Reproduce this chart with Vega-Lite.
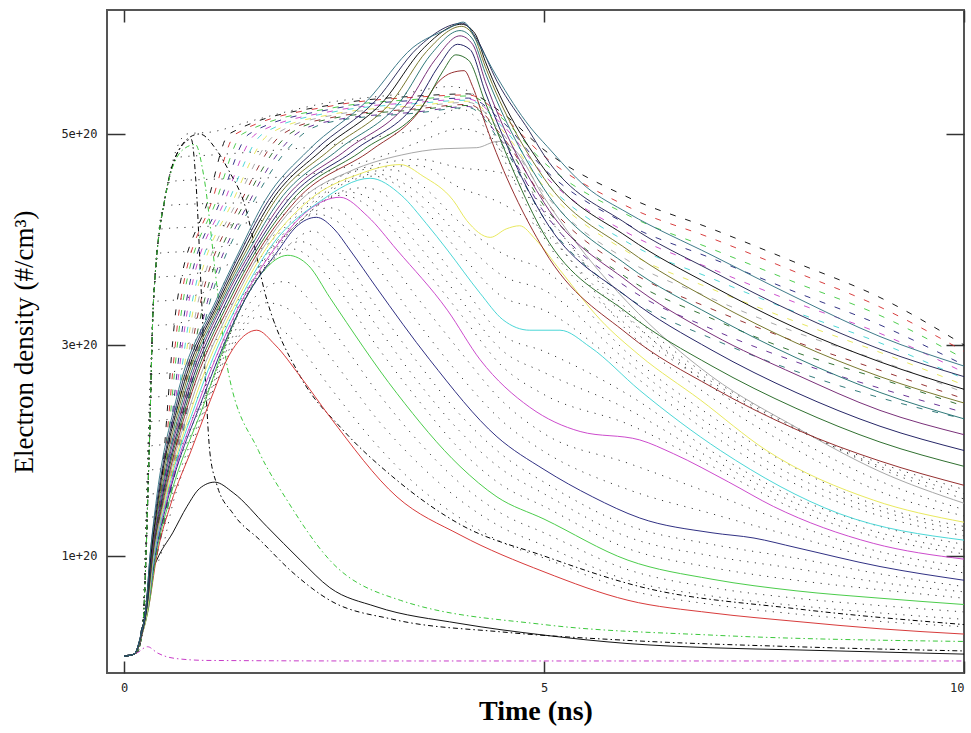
{
"$schema":"https://vega.github.io/schema/vega-lite/v6.json",
"width":857,"height":663,
"autosize":{"type":"none"},
"padding":{"left":107,"top":10,"right":7,"bottom":60},
"background":"white",
"config":{"view":{"stroke":"#555","strokeWidth":2}},
"data":{"values":[
{"c":"s1","t":0,"n":0.05},{"c":"s1","t":0.12,"n":0.07},{"c":"s1","t":0.19,"n":0.2},{"c":"s1","t":0.27,"n":0.52},{"c":"s1","t":0.29,"n":0.74},{"c":"s1","t":0.39,"n":0.96},{"c":"s1","t":0.58,"n":1.22},{"c":"s1","t":0.75,"n":1.47},{"c":"s1","t":0.9,"n":1.64},{"c":"s1","t":1.08,"n":1.7},{"c":"s1","t":1.3,"n":1.6},{"c":"s1","t":1.7,"n":1.28},{"c":"s1","t":2.1,"n":0.96},{"c":"s1","t":2.45,"n":0.7},{"c":"s1","t":3,"n":0.52},{"c":"s1","t":4,"n":0.36},{"c":"s1","t":5,"n":0.25},{"c":"s1","t":6,"n":0.17},{"c":"s1","t":7,"n":0.13},{"c":"s1","t":8,"n":0.11},{"c":"s1","t":9,"n":0.09},{"c":"s1","t":10,"n":0.07},
{"c":"s2","t":0,"n":0.05},{"c":"s2","t":0.12,"n":0.07},{"c":"s2","t":0.2,"n":0.22},{"c":"s2","t":0.29,"n":0.5},{"c":"s2","t":0.39,"n":1},{"c":"s2","t":0.56,"n":1.5},{"c":"s2","t":0.8,"n":2},{"c":"s2","t":1.03,"n":2.48},{"c":"s2","t":1.25,"n":2.9},{"c":"s2","t":1.45,"n":3.1},{"c":"s2","t":1.58,"n":3.14},{"c":"s2","t":1.8,"n":3},{"c":"s2","t":2.1,"n":2.7},{"c":"s2","t":2.45,"n":2.32},{"c":"s2","t":3.25,"n":1.56},{"c":"s2","t":4,"n":1.2},{"c":"s2","t":5,"n":0.85},{"c":"s2","t":6,"n":0.58},{"c":"s2","t":7,"n":0.46},{"c":"s2","t":8,"n":0.38},{"c":"s2","t":9,"n":0.31},{"c":"s2","t":10,"n":0.26},
{"c":"s3","t":0,"n":0.05},{"c":"s3","t":0.12,"n":0.07},{"c":"s3","t":0.2,"n":0.22},{"c":"s3","t":0.29,"n":0.5},{"c":"s3","t":0.38,"n":1},{"c":"s3","t":0.53,"n":1.5},{"c":"s3","t":0.97,"n":2.48},{"c":"s3","t":1.2,"n":3},{"c":"s3","t":1.44,"n":3.43},{"c":"s3","t":1.66,"n":3.7},{"c":"s3","t":1.95,"n":3.85},{"c":"s3","t":2.2,"n":3.75},{"c":"s3","t":2.45,"n":3.45},{"c":"s3","t":3.25,"n":2.54},{"c":"s3","t":4,"n":1.85},{"c":"s3","t":4.44,"n":1.56},{"c":"s3","t":5,"n":1.35},{"c":"s3","t":6,"n":0.96},{"c":"s3","t":7,"n":0.78},{"c":"s3","t":8,"n":0.67},{"c":"s3","t":9,"n":0.6},{"c":"s3","t":10,"n":0.54},
{"c":"s4","t":0,"n":0.05},{"c":"s4","t":0.12,"n":0.07},{"c":"s4","t":0.2,"n":0.22},{"c":"s4","t":0.28,"n":0.5},{"c":"s4","t":0.37,"n":1},{"c":"s4","t":0.51,"n":1.5},{"c":"s4","t":0.93,"n":2.48},{"c":"s4","t":1.44,"n":3.43},{"c":"s4","t":1.84,"n":3.9},{"c":"s4","t":2.05,"n":4.12},{"c":"s4","t":2.29,"n":4.21},{"c":"s4","t":2.5,"n":4.1},{"c":"s4","t":2.69,"n":3.9},{"c":"s4","t":3,"n":3.55},{"c":"s4","t":3.64,"n":2.86},{"c":"s4","t":4.44,"n":2.13},{"c":"s4","t":5,"n":1.82},{"c":"s4","t":5.58,"n":1.56},{"c":"s4","t":6.14,"n":1.36},{"c":"s4","t":7,"n":1.22},{"c":"s4","t":7.5,"n":1.17},{"c":"s4","t":8,"n":1.08},{"c":"s4","t":9,"n":0.9},{"c":"s4","t":10,"n":0.77},
{"c":"s5","t":0,"n":0.05},{"c":"s5","t":0.12,"n":0.07},{"c":"s5","t":0.2,"n":0.22},{"c":"s5","t":0.28,"n":0.5},{"c":"s5","t":0.36,"n":1},{"c":"s5","t":0.5,"n":1.5},{"c":"s5","t":0.9,"n":2.48},{"c":"s5","t":1.41,"n":3.43},{"c":"s5","t":1.78,"n":3.9},{"c":"s5","t":2.2,"n":4.28},{"c":"s5","t":2.57,"n":4.4},{"c":"s5","t":2.9,"n":4.22},{"c":"s5","t":3.25,"n":3.9},{"c":"s5","t":3.85,"n":3.33},{"c":"s5","t":4.24,"n":2.86},{"c":"s5","t":4.83,"n":2.41},{"c":"s5","t":5.43,"n":2.18},{"c":"s5","t":6.14,"n":2.1},{"c":"s5","t":6.54,"n":1.97},{"c":"s5","t":7.2,"n":1.7},{"c":"s5","t":7.73,"n":1.47},{"c":"s5","t":8.92,"n":1.12},{"c":"s5","t":10,"n":0.97},
{"c":"s6","t":0,"n":0.05},{"c":"s6","t":0.12,"n":0.07},{"c":"s6","t":0.2,"n":0.22},{"c":"s6","t":0.28,"n":0.5},{"c":"s6","t":0.36,"n":1},{"c":"s6","t":0.49,"n":1.5},{"c":"s6","t":0.87,"n":2.48},{"c":"s6","t":1.38,"n":3.43},{"c":"s6","t":1.72,"n":3.9},{"c":"s6","t":2.35,"n":4.37},{"c":"s6","t":2.93,"n":4.58},{"c":"s6","t":3.3,"n":4.42},{"c":"s6","t":3.6,"n":4.15},{"c":"s6","t":3.85,"n":3.9},{"c":"s6","t":4.24,"n":3.49},{"c":"s6","t":4.51,"n":3.24},{"c":"s6","t":4.83,"n":3.14},{"c":"s6","t":5.19,"n":3.14},{"c":"s6","t":5.55,"n":2.98},{"c":"s6","t":6.14,"n":2.57},{"c":"s6","t":7.1,"n":2},{"c":"s6","t":8.52,"n":1.4},{"c":"s6","t":10,"n":1.15},
{"c":"s7","t":0,"n":0.05},{"c":"s7","t":0.12,"n":0.07},{"c":"s7","t":0.2,"n":0.22},{"c":"s7","t":0.28,"n":0.5},{"c":"s7","t":0.35,"n":1},{"c":"s7","t":0.48,"n":1.5},{"c":"s7","t":0.84,"n":2.48},{"c":"s7","t":1.35,"n":3.43},{"c":"s7","t":1.68,"n":3.9},{"c":"s7","t":2.2,"n":4.37},{"c":"s7","t":2.8,"n":4.62},{"c":"s7","t":3.29,"n":4.71},{"c":"s7","t":3.56,"n":4.6},{"c":"s7","t":3.92,"n":4.37},{"c":"s7","t":4.08,"n":4.18},{"c":"s7","t":4.36,"n":4.02},{"c":"s7","t":4.55,"n":4.1},{"c":"s7","t":4.71,"n":4.13},{"c":"s7","t":4.9,"n":4},{"c":"s7","t":5.19,"n":3.71},{"c":"s7","t":5.67,"n":3.24},{"c":"s7","t":6.14,"n":2.9},{"c":"s7","t":6.86,"n":2.48},{"c":"s7","t":7.65,"n":2},{"c":"s7","t":8.92,"n":1.53},{"c":"s7","t":10,"n":1.32},
{"c":"s8","t":0,"n":0.05},{"c":"s8","t":0.12,"n":0.07},{"c":"s8","t":0.2,"n":0.22},{"c":"s8","t":0.27,"n":0.5},{"c":"s8","t":0.35,"n":1},{"c":"s8","t":0.47,"n":1.5},{"c":"s8","t":0.81,"n":2.48},{"c":"s8","t":1.32,"n":3.43},{"c":"s8","t":1.64,"n":3.9},{"c":"s8","t":2.1,"n":4.37},{"c":"s8","t":2.7,"n":4.65},{"c":"s8","t":3.3,"n":4.8},{"c":"s8","t":3.8,"n":4.86},{"c":"s8","t":4.2,"n":4.87},{"c":"s8","t":4.45,"n":4.93},{"c":"s8","t":4.65,"n":4.85},{"c":"s8","t":5,"n":4.4},{"c":"s8","t":5.5,"n":3.85},{"c":"s8","t":6,"n":3.4},{"c":"s8","t":7,"n":2.7},{"c":"s8","t":8,"n":2.22},{"c":"s8","t":9,"n":1.8},{"c":"s8","t":10,"n":1.5},
{"c":"s9","t":0,"n":0.05},{"c":"s9","t":0.12,"n":0.07},{"c":"s9","t":0.2,"n":0.22},{"c":"s9","t":0.27,"n":0.5},{"c":"s9","t":0.34,"n":1},{"c":"s9","t":0.46,"n":1.5},{"c":"s9","t":0.78,"n":2.48},{"c":"s9","t":1.29,"n":3.43},{"c":"s9","t":1.61,"n":3.9},{"c":"s9","t":2.05,"n":4.37},{"c":"s9","t":2.95,"n":4.85},{"c":"s9","t":3.5,"n":5.2},{"c":"s9","t":3.75,"n":5.5},{"c":"s9","t":3.9,"n":5.58},{"c":"s9","t":4.05,"n":5.6},{"c":"s9","t":4.15,"n":5.45},{"c":"s9","t":4.3,"n":5.1},{"c":"s9","t":5,"n":3.9},{"c":"s9","t":6,"n":3.1},{"c":"s9","t":7,"n":2.6},{"c":"s9","t":8,"n":2.2},{"c":"s9","t":9,"n":1.9},{"c":"s9","t":10,"n":1.67},
{"c":"s10","t":0,"n":0.05},{"c":"s10","t":0.12,"n":0.07},{"c":"s10","t":0.2,"n":0.23},{"c":"s10","t":0.27,"n":0.5},{"c":"s10","t":0.34,"n":1},{"c":"s10","t":0.45,"n":1.5},{"c":"s10","t":0.76,"n":2.48},{"c":"s10","t":1.26,"n":3.43},{"c":"s10","t":1.58,"n":3.9},{"c":"s10","t":2,"n":4.37},{"c":"s10","t":2.85,"n":4.85},{"c":"s10","t":3.6,"n":5.32},{"c":"s10","t":3.8,"n":5.6},{"c":"s10","t":3.95,"n":5.75},{"c":"s10","t":4.1,"n":5.7},{"c":"s10","t":4.3,"n":5.3},{"c":"s10","t":5,"n":4.05},{"c":"s10","t":6,"n":3.3},{"c":"s10","t":7,"n":2.8},{"c":"s10","t":8,"n":2.4},{"c":"s10","t":9,"n":2.08},{"c":"s10","t":10,"n":1.85},
{"c":"s11","t":0,"n":0.05},{"c":"s11","t":0.12,"n":0.07},{"c":"s11","t":0.2,"n":0.23},{"c":"s11","t":0.27,"n":0.5},{"c":"s11","t":0.33,"n":1},{"c":"s11","t":0.44,"n":1.5},{"c":"s11","t":0.74,"n":2.48},{"c":"s11","t":1.23,"n":3.43},{"c":"s11","t":1.55,"n":3.9},{"c":"s11","t":1.95,"n":4.37},{"c":"s11","t":2.75,"n":4.85},{"c":"s11","t":3.5,"n":5.32},{"c":"s11","t":3.75,"n":5.65},{"c":"s11","t":3.97,"n":5.85},{"c":"s11","t":4.12,"n":5.8},{"c":"s11","t":4.3,"n":5.4},{"c":"s11","t":5,"n":4.2},{"c":"s11","t":6,"n":3.45},{"c":"s11","t":7,"n":2.95},{"c":"s11","t":8,"n":2.55},{"c":"s11","t":9,"n":2.23},{"c":"s11","t":10,"n":2},
{"c":"s12","t":0,"n":0.05},{"c":"s12","t":0.12,"n":0.07},{"c":"s12","t":0.2,"n":0.23},{"c":"s12","t":0.26,"n":0.5},{"c":"s12","t":0.33,"n":1},{"c":"s12","t":0.43,"n":1.5},{"c":"s12","t":0.72,"n":2.48},{"c":"s12","t":1.2,"n":3.43},{"c":"s12","t":1.52,"n":3.9},{"c":"s12","t":1.9,"n":4.37},{"c":"s12","t":2.65,"n":4.85},{"c":"s12","t":3.4,"n":5.32},{"c":"s12","t":3.7,"n":5.7},{"c":"s12","t":4,"n":5.93},{"c":"s12","t":4.15,"n":5.85},{"c":"s12","t":4.3,"n":5.5},{"c":"s12","t":5,"n":4.35},{"c":"s12","t":6,"n":3.6},{"c":"s12","t":7,"n":3.1},{"c":"s12","t":8,"n":2.72},{"c":"s12","t":9,"n":2.38},{"c":"s12","t":10,"n":2.15},
{"c":"s13","t":0,"n":0.05},{"c":"s13","t":0.12,"n":0.07},{"c":"s13","t":0.2,"n":0.24},{"c":"s13","t":0.26,"n":0.5},{"c":"s13","t":0.32,"n":1},{"c":"s13","t":0.42,"n":1.5},{"c":"s13","t":0.7,"n":2.48},{"c":"s13","t":1.18,"n":3.43},{"c":"s13","t":1.49,"n":3.9},{"c":"s13","t":1.85,"n":4.37},{"c":"s13","t":2.55,"n":4.85},{"c":"s13","t":3.3,"n":5.32},{"c":"s13","t":3.65,"n":5.75},{"c":"s13","t":4,"n":5.98},{"c":"s13","t":4.15,"n":5.9},{"c":"s13","t":4.3,"n":5.58},{"c":"s13","t":5,"n":4.48},{"c":"s13","t":6,"n":3.75},{"c":"s13","t":7,"n":3.28},{"c":"s13","t":8,"n":2.88},{"c":"s13","t":9,"n":2.55},{"c":"s13","t":10,"n":2.3},
{"c":"s14","t":0,"n":0.05},{"c":"s14","t":0.12,"n":0.07},{"c":"s14","t":0.2,"n":0.24},{"c":"s14","t":0.26,"n":0.5},{"c":"s14","t":0.32,"n":1},{"c":"s14","t":0.41,"n":1.5},{"c":"s14","t":0.68,"n":2.48},{"c":"s14","t":1.16,"n":3.43},{"c":"s14","t":1.46,"n":3.9},{"c":"s14","t":1.8,"n":4.37},{"c":"s14","t":2.45,"n":4.85},{"c":"s14","t":3.2,"n":5.32},{"c":"s14","t":3.6,"n":5.78},{"c":"s14","t":4.02,"n":6.02},{"c":"s14","t":4.17,"n":5.92},{"c":"s14","t":4.3,"n":5.64},{"c":"s14","t":5,"n":4.58},{"c":"s14","t":6,"n":3.9},{"c":"s14","t":7,"n":3.42},{"c":"s14","t":8,"n":3.02},{"c":"s14","t":9,"n":2.7},{"c":"s14","t":10,"n":2.45},
{"c":"s15","t":0,"n":0.05},{"c":"s15","t":0.12,"n":0.07},{"c":"s15","t":0.2,"n":0.25},{"c":"s15","t":0.26,"n":0.5},{"c":"s15","t":0.32,"n":1},{"c":"s15","t":0.4,"n":1.5},{"c":"s15","t":0.66,"n":2.48},{"c":"s15","t":1.14,"n":3.43},{"c":"s15","t":1.43,"n":3.9},{"c":"s15","t":1.76,"n":4.37},{"c":"s15","t":2.36,"n":4.85},{"c":"s15","t":3.1,"n":5.32},{"c":"s15","t":3.55,"n":5.8},{"c":"s15","t":4.02,"n":6.04},{"c":"s15","t":4.18,"n":5.95},{"c":"s15","t":4.3,"n":5.69},{"c":"s15","t":5,"n":4.67},{"c":"s15","t":6,"n":4.02},{"c":"s15","t":7,"n":3.56},{"c":"s15","t":8,"n":3.16},{"c":"s15","t":9,"n":2.84},{"c":"s15","t":10,"n":2.58},
{"c":"s16","t":0,"n":0.05},{"c":"s16","t":0.12,"n":0.07},{"c":"s16","t":0.2,"n":0.25},{"c":"s16","t":0.26,"n":0.5},{"c":"s16","t":0.31,"n":1},{"c":"s16","t":0.39,"n":1.5},{"c":"s16","t":0.64,"n":2.48},{"c":"s16","t":1.12,"n":3.43},{"c":"s16","t":1.4,"n":3.9},{"c":"s16","t":1.72,"n":4.37},{"c":"s16","t":2.28,"n":4.85},{"c":"s16","t":3,"n":5.32},{"c":"s16","t":3.5,"n":5.82},{"c":"s16","t":4.03,"n":6.05},{"c":"s16","t":4.2,"n":5.9},{"c":"s16","t":4.44,"n":5.5},{"c":"s16","t":4.83,"n":5.02},{"c":"s16","t":5,"n":4.8},{"c":"s16","t":6,"n":4.14},{"c":"s16","t":7,"n":3.7},{"c":"s16","t":8,"n":3.3},{"c":"s16","t":9,"n":2.96},{"c":"s16","t":10,"n":2.7},
{"c":"s17","t":0,"n":0.05},{"c":"s17","t":0.12,"n":0.07},{"c":"s17","t":0.2,"n":0.25},{"c":"s17","t":0.26,"n":0.5},{"c":"s17","t":0.31,"n":1},{"c":"s17","t":0.38,"n":1.5},{"c":"s17","t":0.62,"n":2.48},{"c":"s17","t":1.1,"n":3.43},{"c":"s17","t":1.38,"n":3.9},{"c":"s17","t":1.68,"n":4.37},{"c":"s17","t":2.2,"n":4.85},{"c":"s17","t":2.9,"n":5.32},{"c":"s17","t":3.44,"n":5.82},{"c":"s17","t":3.84,"n":5.99},{"c":"s17","t":4.04,"n":6.06},{"c":"s17","t":4.2,"n":5.88},{"c":"s17","t":4.44,"n":5.54},{"c":"s17","t":4.83,"n":5.07},{"c":"s17","t":5.04,"n":4.88},{"c":"s17","t":5.5,"n":4.5},{"c":"s17","t":6,"n":4.25},{"c":"s17","t":7,"n":3.85},{"c":"s17","t":8,"n":3.45},{"c":"s17","t":9,"n":3.08},{"c":"s17","t":10,"n":2.8},
{"c":"d0","t":0,"n":0.05},{"c":"d0","t":0.15,"n":0.1},{"c":"d0","t":0.25,"n":0.5},{"c":"d0","t":0.43,"n":1.56},{"c":"d0","t":0.63,"n":3.4},{"c":"d0","t":1,"n":4.37},{"c":"d0","t":1.25,"n":5},{"c":"d0","t":2.5,"n":5.28},{"c":"d0","t":3.5,"n":5.36},{"c":"d0","t":4.1,"n":5.38},{"c":"d0","t":4.5,"n":5.2},{"c":"d0","t":5,"n":4.85},{"c":"d0","t":6,"n":4.4},{"c":"d0","t":7,"n":4.1},{"c":"d0","t":8,"n":3.78},{"c":"d0","t":9,"n":3.45},{"c":"d0","t":10,"n":3},
{"c":"d1","t":0,"n":0.05},{"c":"d1","t":0.15,"n":0.1},{"c":"d1","t":0.25,"n":0.5},{"c":"d1","t":0.44,"n":1.56},{"c":"d1","t":0.67,"n":3.4},{"c":"d1","t":1.05,"n":4.37},{"c":"d1","t":1.33,"n":5},{"c":"d1","t":2.5,"n":5.27},{"c":"d1","t":3.5,"n":5.35},{"c":"d1","t":4.1,"n":5.37},{"c":"d1","t":4.5,"n":5.17},{"c":"d1","t":5,"n":4.79},{"c":"d1","t":6,"n":4.31},{"c":"d1","t":7,"n":4.01},{"c":"d1","t":8,"n":3.69},{"c":"d1","t":9,"n":3.36},{"c":"d1","t":10,"n":2.94},
{"c":"d2","t":0,"n":0.05},{"c":"d2","t":0.15,"n":0.1},{"c":"d2","t":0.25,"n":0.5},{"c":"d2","t":0.45,"n":1.56},{"c":"d2","t":0.7,"n":3.4},{"c":"d2","t":1.1,"n":4.37},{"c":"d2","t":1.41,"n":5},{"c":"d2","t":2.5,"n":5.25},{"c":"d2","t":3.5,"n":5.33},{"c":"d2","t":4.1,"n":5.36},{"c":"d2","t":4.5,"n":5.15},{"c":"d2","t":5,"n":4.73},{"c":"d2","t":6,"n":4.23},{"c":"d2","t":7,"n":3.91},{"c":"d2","t":8,"n":3.59},{"c":"d2","t":9,"n":3.28},{"c":"d2","t":10,"n":2.87},
{"c":"d3","t":0,"n":0.05},{"c":"d3","t":0.15,"n":0.1},{"c":"d3","t":0.25,"n":0.5},{"c":"d3","t":0.46,"n":1.56},{"c":"d3","t":0.74,"n":3.4},{"c":"d3","t":1.15,"n":4.37},{"c":"d3","t":1.49,"n":5},{"c":"d3","t":2.5,"n":5.24},{"c":"d3","t":3.5,"n":5.32},{"c":"d3","t":4.1,"n":5.34},{"c":"d3","t":4.5,"n":5.12},{"c":"d3","t":5,"n":4.67},{"c":"d3","t":6,"n":4.14},{"c":"d3","t":7,"n":3.82},{"c":"d3","t":8,"n":3.5},{"c":"d3","t":9,"n":3.19},{"c":"d3","t":10,"n":2.81},
{"c":"d4","t":0,"n":0.05},{"c":"d4","t":0.15,"n":0.1},{"c":"d4","t":0.25,"n":0.5},{"c":"d4","t":0.47,"n":1.56},{"c":"d4","t":0.77,"n":3.4},{"c":"d4","t":1.2,"n":4.37},{"c":"d4","t":1.57,"n":5},{"c":"d4","t":2.5,"n":5.22},{"c":"d4","t":3.5,"n":5.3},{"c":"d4","t":4.1,"n":5.33},{"c":"d4","t":4.5,"n":5.09},{"c":"d4","t":5,"n":4.61},{"c":"d4","t":6,"n":4.06},{"c":"d4","t":7,"n":3.72},{"c":"d4","t":8,"n":3.4},{"c":"d4","t":9,"n":3.11},{"c":"d4","t":10,"n":2.74},
{"c":"d5","t":0,"n":0.05},{"c":"d5","t":0.15,"n":0.1},{"c":"d5","t":0.25,"n":0.5},{"c":"d5","t":0.48,"n":1.56},{"c":"d5","t":0.81,"n":3.4},{"c":"d5","t":1.25,"n":4.37},{"c":"d5","t":1.65,"n":5},{"c":"d5","t":2.5,"n":5.21},{"c":"d5","t":3.5,"n":5.29},{"c":"d5","t":4.1,"n":5.32},{"c":"d5","t":4.5,"n":5.07},{"c":"d5","t":5,"n":4.56},{"c":"d5","t":6,"n":3.97},{"c":"d5","t":7,"n":3.63},{"c":"d5","t":8,"n":3.31},{"c":"d5","t":9,"n":3.02},{"c":"d5","t":10,"n":2.68},
{"c":"d6","t":0,"n":0.05},{"c":"d6","t":0.15,"n":0.1},{"c":"d6","t":0.25,"n":0.5},{"c":"d6","t":0.5,"n":1.56},{"c":"d6","t":0.84,"n":3.4},{"c":"d6","t":1.3,"n":4.37},{"c":"d6","t":1.73,"n":5},{"c":"d6","t":2.5,"n":5.19},{"c":"d6","t":3.5,"n":5.27},{"c":"d6","t":4.1,"n":5.31},{"c":"d6","t":4.5,"n":5.04},{"c":"d6","t":5,"n":4.5},{"c":"d6","t":6,"n":3.88},{"c":"d6","t":7,"n":3.53},{"c":"d6","t":8,"n":3.22},{"c":"d6","t":9,"n":2.93},{"c":"d6","t":10,"n":2.62},
{"c":"d7","t":0,"n":0.05},{"c":"d7","t":0.15,"n":0.1},{"c":"d7","t":0.25,"n":0.5},{"c":"d7","t":0.51,"n":1.56},{"c":"d7","t":0.88,"n":3.4},{"c":"d7","t":1.35,"n":4.37},{"c":"d7","t":1.81,"n":5},{"c":"d7","t":2.5,"n":5.18},{"c":"d7","t":3.5,"n":5.26},{"c":"d7","t":4.1,"n":5.3},{"c":"d7","t":4.5,"n":5.01},{"c":"d7","t":5,"n":4.44},{"c":"d7","t":6,"n":3.8},{"c":"d7","t":7,"n":3.44},{"c":"d7","t":8,"n":3.12},{"c":"d7","t":9,"n":2.85},{"c":"d7","t":10,"n":2.55},
{"c":"d8","t":0,"n":0.05},{"c":"d8","t":0.15,"n":0.1},{"c":"d8","t":0.25,"n":0.5},{"c":"d8","t":0.52,"n":1.56},{"c":"d8","t":0.91,"n":3.4},{"c":"d8","t":1.4,"n":4.37},{"c":"d8","t":1.89,"n":5},{"c":"d8","t":2.5,"n":5.16},{"c":"d8","t":3.5,"n":5.24},{"c":"d8","t":4.1,"n":5.28},{"c":"d8","t":4.5,"n":4.98},{"c":"d8","t":5,"n":4.38},{"c":"d8","t":6,"n":3.71},{"c":"d8","t":7,"n":3.34},{"c":"d8","t":8,"n":3.03},{"c":"d8","t":9,"n":2.76},{"c":"d8","t":10,"n":2.49},
{"c":"d9","t":0,"n":0.05},{"c":"d9","t":0.15,"n":0.1},{"c":"d9","t":0.25,"n":0.5},{"c":"d9","t":0.53,"n":1.56},{"c":"d9","t":0.95,"n":3.4},{"c":"d9","t":1.45,"n":4.37},{"c":"d9","t":1.97,"n":5},{"c":"d9","t":2.5,"n":5.15},{"c":"d9","t":3.5,"n":5.23},{"c":"d9","t":4.1,"n":5.27},{"c":"d9","t":4.5,"n":4.96},{"c":"d9","t":5,"n":4.32},{"c":"d9","t":6,"n":3.63},{"c":"d9","t":7,"n":3.25},{"c":"d9","t":8,"n":2.93},{"c":"d9","t":9,"n":2.68},{"c":"d9","t":10,"n":2.42},
{"c":"d10","t":0,"n":0.05},{"c":"d10","t":0.15,"n":0.1},{"c":"d10","t":0.25,"n":0.5},{"c":"d10","t":0.54,"n":1.56},{"c":"d10","t":0.99,"n":3.4},{"c":"d10","t":1.5,"n":4.37},{"c":"d10","t":2.05,"n":5},{"c":"d10","t":2.5,"n":5.13},{"c":"d10","t":3.5,"n":5.21},{"c":"d10","t":4.1,"n":5.26},{"c":"d10","t":4.5,"n":4.93},{"c":"d10","t":5,"n":4.26},{"c":"d10","t":6,"n":3.54},{"c":"d10","t":7,"n":3.15},{"c":"d10","t":8,"n":2.84},{"c":"d10","t":9,"n":2.59},{"c":"d10","t":10,"n":2.36},
{"c":"d11","t":0,"n":0.05},{"c":"d11","t":0.15,"n":0.1},{"c":"d11","t":0.25,"n":0.5},{"c":"d11","t":0.55,"n":1.56},{"c":"d11","t":1.02,"n":3.4},{"c":"d11","t":1.55,"n":4.37},{"c":"d11","t":2.13,"n":5},{"c":"d11","t":2.5,"n":5.12},{"c":"d11","t":3.5,"n":5.2},{"c":"d11","t":4.1,"n":5.25},{"c":"d11","t":4.5,"n":4.9},{"c":"d11","t":5,"n":4.2},{"c":"d11","t":6,"n":3.45},{"c":"d11","t":7,"n":3.06},{"c":"d11","t":8,"n":2.75},{"c":"d11","t":9,"n":2.5},{"c":"d11","t":10,"n":2.3},
{"c":"p0","t":0,"n":0.05},{"c":"p0","t":0.15,"n":0.08},{"c":"p0","t":0.22,"n":0.3},{"c":"p0","t":0.265,"n":0.9},{"c":"p0","t":0.38,"n":0.92},{"c":"p0","t":0.6,"n":1.55},{"c":"p0","t":1.015,"n":2.48},{"c":"p0","t":1.31,"n":3},{"c":"p0","t":1.6,"n":3.27},{"c":"p0","t":2,"n":3.06},{"c":"p0","t":2.5,"n":2.55},{"c":"p0","t":3,"n":2.06},{"c":"p0","t":3.5,"n":1.66},{"c":"p0","t":4,"n":1.36},{"c":"p0","t":4.5,"n":1.13},{"c":"p0","t":5,"n":0.98},{"c":"p0","t":6,"n":0.68},{"c":"p0","t":7,"n":0.54},{"c":"p0","t":8,"n":0.45},{"c":"p0","t":9,"n":0.38},{"c":"p0","t":10,"n":0.33},
{"c":"p1","t":0,"n":0.05},{"c":"p1","t":0.15,"n":0.08},{"c":"p1","t":0.22,"n":0.3},{"c":"p1","t":0.274,"n":1.13},{"c":"p1","t":0.4,"n":1.15},{"c":"p1","t":0.62,"n":1.7},{"c":"p1","t":1,"n":2.48},{"c":"p1","t":1.28,"n":3},{"c":"p1","t":1.7,"n":3.4},{"c":"p1","t":2,"n":3.32},{"c":"p1","t":2.5,"n":2.84},{"c":"p1","t":3,"n":2.31},{"c":"p1","t":3.5,"n":1.88},{"c":"p1","t":4,"n":1.53},{"c":"p1","t":4.5,"n":1.27},{"c":"p1","t":5,"n":1.1},{"c":"p1","t":6,"n":0.77},{"c":"p1","t":7,"n":0.62},{"c":"p1","t":8,"n":0.53},{"c":"p1","t":9,"n":0.46},{"c":"p1","t":10,"n":0.4},
{"c":"p2","t":0,"n":0.05},{"c":"p2","t":0.15,"n":0.08},{"c":"p2","t":0.22,"n":0.3},{"c":"p2","t":0.281,"n":1.36},{"c":"p2","t":0.415,"n":1.38},{"c":"p2","t":0.63,"n":1.85},{"c":"p2","t":0.985,"n":2.48},{"c":"p2","t":1.25,"n":3},{"c":"p2","t":1.5,"n":3.4},{"c":"p2","t":1.9,"n":3.6},{"c":"p2","t":2.5,"n":3.12},{"c":"p2","t":3,"n":2.57},{"c":"p2","t":3.5,"n":2.09},{"c":"p2","t":4,"n":1.69},{"c":"p2","t":4.5,"n":1.4},{"c":"p2","t":5,"n":1.22},{"c":"p2","t":6,"n":0.87},{"c":"p2","t":7,"n":0.7},{"c":"p2","t":8,"n":0.6},{"c":"p2","t":9,"n":0.53},{"c":"p2","t":10,"n":0.47},
{"c":"p3","t":0,"n":0.05},{"c":"p3","t":0.15,"n":0.08},{"c":"p3","t":0.22,"n":0.3},{"c":"p3","t":0.287,"n":1.58},{"c":"p3","t":0.43,"n":1.6},{"c":"p3","t":0.66,"n":2},{"c":"p3","t":0.96,"n":2.48},{"c":"p3","t":1.44,"n":3.43},{"c":"p3","t":1.7,"n":3.75},{"c":"p3","t":2,"n":3.91},{"c":"p3","t":2.5,"n":3.58},{"c":"p3","t":3,"n":3},{"c":"p3","t":3.5,"n":2.48},{"c":"p3","t":4,"n":2.01},{"c":"p3","t":4.5,"n":1.67},{"c":"p3","t":5,"n":1.47},{"c":"p3","t":6,"n":1.07},{"c":"p3","t":7,"n":0.89},{"c":"p3","t":8,"n":0.77},{"c":"p3","t":9,"n":0.68},{"c":"p3","t":10,"n":0.6},
{"c":"p4","t":0,"n":0.05},{"c":"p4","t":0.15,"n":0.08},{"c":"p4","t":0.22,"n":0.3},{"c":"p4","t":0.294,"n":1.81},{"c":"p4","t":0.455,"n":1.83},{"c":"p4","t":0.68,"n":2.15},{"c":"p4","t":0.95,"n":2.48},{"c":"p4","t":1.44,"n":3.43},{"c":"p4","t":1.75,"n":3.8},{"c":"p4","t":2.1,"n":3.98},{"c":"p4","t":2.5,"n":3.75},{"c":"p4","t":3,"n":3.19},{"c":"p4","t":3.5,"n":2.65},{"c":"p4","t":4,"n":2.18},{"c":"p4","t":4.5,"n":1.82},{"c":"p4","t":5,"n":1.59},{"c":"p4","t":6,"n":1.18},{"c":"p4","t":7,"n":1},{"c":"p4","t":8,"n":0.88},{"c":"p4","t":9,"n":0.75},{"c":"p4","t":10,"n":0.66},
{"c":"p5","t":0,"n":0.05},{"c":"p5","t":0.15,"n":0.08},{"c":"p5","t":0.22,"n":0.3},{"c":"p5","t":0.301,"n":2.04},{"c":"p5","t":0.48,"n":2.06},{"c":"p5","t":0.94,"n":2.48},{"c":"p5","t":1.44,"n":3.43},{"c":"p5","t":1.9,"n":3.9},{"c":"p5","t":2.25,"n":4.08},{"c":"p5","t":2.5,"n":3.93},{"c":"p5","t":3,"n":3.37},{"c":"p5","t":3.5,"n":2.83},{"c":"p5","t":4,"n":2.34},{"c":"p5","t":4.5,"n":1.96},{"c":"p5","t":5,"n":1.7},{"c":"p5","t":6,"n":1.29},{"c":"p5","t":7,"n":1.11},{"c":"p5","t":8,"n":0.98},{"c":"p5","t":9,"n":0.83},{"c":"p5","t":10,"n":0.71},
{"c":"p6","t":0,"n":0.05},{"c":"p6","t":0.15,"n":0.08},{"c":"p6","t":0.22,"n":0.3},{"c":"p6","t":0.31,"n":2.27},{"c":"p6","t":0.5,"n":2.29},{"c":"p6","t":0.92,"n":2.55},{"c":"p6","t":1.43,"n":3.43},{"c":"p6","t":1.82,"n":3.9},{"c":"p6","t":2,"n":4.1},{"c":"p6","t":2.3,"n":4.24},{"c":"p6","t":2.5,"n":4.19},{"c":"p6","t":3,"n":3.75},{"c":"p6","t":3.5,"n":3.21},{"c":"p6","t":4,"n":2.71},{"c":"p6","t":4.5,"n":2.28},{"c":"p6","t":5,"n":1.99},{"c":"p6","t":6,"n":1.63},{"c":"p6","t":7,"n":1.4},{"c":"p6","t":8,"n":1.18},{"c":"p6","t":9,"n":0.97},{"c":"p6","t":10,"n":0.84},
{"c":"p7","t":0,"n":0.05},{"c":"p7","t":0.15,"n":0.08},{"c":"p7","t":0.22,"n":0.3},{"c":"p7","t":0.318,"n":2.5},{"c":"p7","t":0.53,"n":2.52},{"c":"p7","t":0.95,"n":2.7},{"c":"p7","t":1.42,"n":3.43},{"c":"p7","t":1.8,"n":3.9},{"c":"p7","t":2,"n":4.1},{"c":"p7","t":2.45,"n":4.3},{"c":"p7","t":3,"n":3.95},{"c":"p7","t":3.5,"n":3.44},{"c":"p7","t":4,"n":2.94},{"c":"p7","t":4.5,"n":2.47},{"c":"p7","t":5,"n":2.16},{"c":"p7","t":6,"n":1.88},{"c":"p7","t":7,"n":1.59},{"c":"p7","t":8,"n":1.29},{"c":"p7","t":9,"n":1.04},{"c":"p7","t":10,"n":0.9},
{"c":"p8","t":0,"n":0.05},{"c":"p8","t":0.15,"n":0.08},{"c":"p8","t":0.22,"n":0.3},{"c":"p8","t":0.326,"n":2.72},{"c":"p8","t":0.555,"n":2.74},{"c":"p8","t":1,"n":2.95},{"c":"p8","t":1.41,"n":3.43},{"c":"p8","t":1.77,"n":3.9},{"c":"p8","t":2,"n":4.1},{"c":"p8","t":2.6,"n":4.42},{"c":"p8","t":3,"n":4.26},{"c":"p8","t":3.5,"n":3.8},{"c":"p8","t":4,"n":3.3},{"c":"p8","t":4.5,"n":2.8},{"c":"p8","t":5,"n":2.53},{"c":"p8","t":6,"n":2.25},{"c":"p8","t":7,"n":1.85},{"c":"p8","t":8,"n":1.44},{"c":"p8","t":9,"n":1.17},{"c":"p8","t":10,"n":1.02},
{"c":"p9","t":0,"n":0.05},{"c":"p9","t":0.15,"n":0.08},{"c":"p9","t":0.22,"n":0.3},{"c":"p9","t":0.334,"n":2.95},{"c":"p9","t":0.58,"n":2.97},{"c":"p9","t":1.05,"n":3.15},{"c":"p9","t":1.39,"n":3.43},{"c":"p9","t":1.75,"n":3.9},{"c":"p9","t":2,"n":4.1},{"c":"p9","t":2.65,"n":4.45},{"c":"p9","t":3,"n":4.36},{"c":"p9","t":3.5,"n":3.95},{"c":"p9","t":4,"n":3.44},{"c":"p9","t":4.5,"n":2.95},{"c":"p9","t":5,"n":2.74},{"c":"p9","t":6,"n":2.39},{"c":"p9","t":7,"n":1.92},{"c":"p9","t":8,"n":1.5},{"c":"p9","t":9,"n":1.22},{"c":"p9","t":10,"n":1.06},
{"c":"p10","t":0,"n":0.05},{"c":"p10","t":0.15,"n":0.08},{"c":"p10","t":0.22,"n":0.3},{"c":"p10","t":0.3,"n":2},{"c":"p10","t":0.343,"n":3.18},{"c":"p10","t":0.61,"n":3.2},{"c":"p10","t":1.1,"n":3.33},{"c":"p10","t":1.39,"n":3.45},{"c":"p10","t":1.73,"n":3.9},{"c":"p10","t":2,"n":4.1},{"c":"p10","t":2.5,"n":4.43},{"c":"p10","t":2.85,"n":4.49},{"c":"p10","t":3,"n":4.47},{"c":"p10","t":3.5,"n":4.1},{"c":"p10","t":4,"n":3.59},{"c":"p10","t":4.5,"n":3.1},{"c":"p10","t":5,"n":2.94},{"c":"p10","t":6,"n":2.53},{"c":"p10","t":7,"n":1.99},{"c":"p10","t":8,"n":1.55},{"c":"p10","t":9,"n":1.28},{"c":"p10","t":10,"n":1.11},
{"c":"p11","t":0,"n":0.05},{"c":"p11","t":0.15,"n":0.08},{"c":"p11","t":0.22,"n":0.3},{"c":"p11","t":0.3,"n":2},{"c":"p11","t":0.351,"n":3.41},{"c":"p11","t":0.64,"n":3.43},{"c":"p11","t":1.1,"n":3.55},{"c":"p11","t":1.72,"n":3.9},{"c":"p11","t":2,"n":4.14},{"c":"p11","t":2.5,"n":4.48},{"c":"p11","t":2.97,"n":4.6},{"c":"p11","t":3.5,"n":4.35},{"c":"p11","t":4,"n":3.87},{"c":"p11","t":4.5,"n":3.46},{"c":"p11","t":5,"n":3.33},{"c":"p11","t":6,"n":2.75},{"c":"p11","t":7,"n":2.15},{"c":"p11","t":8,"n":1.68},{"c":"p11","t":9,"n":1.38},{"c":"p11","t":10,"n":1.19},
{"c":"p12","t":0,"n":0.05},{"c":"p12","t":0.15,"n":0.08},{"c":"p12","t":0.22,"n":0.3},{"c":"p12","t":0.3,"n":2},{"c":"p12","t":0.35,"n":3.4},{"c":"p12","t":0.384,"n":3.64},{"c":"p12","t":0.72,"n":3.66},{"c":"p12","t":1.2,"n":3.75},{"c":"p12","t":1.7,"n":3.95},{"c":"p12","t":2,"n":4.18},{"c":"p12","t":2.5,"n":4.5},{"c":"p12","t":3,"n":4.62},{"c":"p12","t":3.5,"n":4.44},{"c":"p12","t":4,"n":4.02},{"c":"p12","t":4.5,"n":3.66},{"c":"p12","t":5,"n":3.52},{"c":"p12","t":6,"n":2.84},{"c":"p12","t":7,"n":2.23},{"c":"p12","t":8,"n":1.75},{"c":"p12","t":9,"n":1.43},{"c":"p12","t":10,"n":1.24},
{"c":"p13","t":0,"n":0.05},{"c":"p13","t":0.15,"n":0.08},{"c":"p13","t":0.22,"n":0.3},{"c":"p13","t":0.3,"n":2},{"c":"p13","t":0.35,"n":3.4},{"c":"p13","t":0.416,"n":3.87},{"c":"p13","t":0.81,"n":3.89},{"c":"p13","t":1.3,"n":3.95},{"c":"p13","t":1.7,"n":4},{"c":"p13","t":2,"n":4.21},{"c":"p13","t":2.5,"n":4.53},{"c":"p13","t":3.2,"n":4.66},{"c":"p13","t":3.5,"n":4.54},{"c":"p13","t":4,"n":4.16},{"c":"p13","t":4.5,"n":3.87},{"c":"p13","t":5,"n":3.71},{"c":"p13","t":6,"n":2.92},{"c":"p13","t":7,"n":2.32},{"c":"p13","t":8,"n":1.83},{"c":"p13","t":9,"n":1.47},{"c":"p13","t":10,"n":1.28},
{"c":"p14","t":0,"n":0.05},{"c":"p14","t":0.15,"n":0.08},{"c":"p14","t":0.22,"n":0.3},{"c":"p14","t":0.3,"n":2},{"c":"p14","t":0.35,"n":3.4},{"c":"p14","t":0.448,"n":4.1},{"c":"p14","t":0.89,"n":4.12},{"c":"p14","t":1.4,"n":4.15},{"c":"p14","t":2,"n":4.27},{"c":"p14","t":2.5,"n":4.57},{"c":"p14","t":3,"n":4.68},{"c":"p14","t":3.5,"n":4.7},{"c":"p14","t":4,"n":4.49},{"c":"p14","t":4.5,"n":4.34},{"c":"p14","t":5,"n":4.07},{"c":"p14","t":6,"n":3.13},{"c":"p14","t":7,"n":2.5},{"c":"p14","t":8,"n":2.01},{"c":"p14","t":9,"n":1.61},{"c":"p14","t":10,"n":1.38},
{"c":"p15","t":0,"n":0.05},{"c":"p15","t":0.15,"n":0.08},{"c":"p15","t":0.22,"n":0.3},{"c":"p15","t":0.3,"n":2},{"c":"p15","t":0.35,"n":3.4},{"c":"p15","t":0.479,"n":4.32},{"c":"p15","t":0.97,"n":4.34},{"c":"p15","t":1.5,"n":4.35},{"c":"p15","t":2,"n":4.38},{"c":"p15","t":2.5,"n":4.58},{"c":"p15","t":3,"n":4.71},{"c":"p15","t":3.5,"n":4.76},{"c":"p15","t":4,"n":4.68},{"c":"p15","t":4.5,"n":4.63},{"c":"p15","t":5,"n":4.24},{"c":"p15","t":6,"n":3.27},{"c":"p15","t":7,"n":2.6},{"c":"p15","t":8,"n":2.11},{"c":"p15","t":9,"n":1.71},{"c":"p15","t":10,"n":1.44},
{"c":"p16","t":0,"n":0.05},{"c":"p16","t":0.15,"n":0.08},{"c":"p16","t":0.22,"n":0.3},{"c":"p16","t":0.3,"n":2},{"c":"p16","t":0.35,"n":3.4},{"c":"p16","t":0.49,"n":4.4},{"c":"p16","t":0.55,"n":4.55},{"c":"p16","t":1.01,"n":4.57},{"c":"p16","t":1.6,"n":4.58},{"c":"p16","t":2.5,"n":4.66},{"c":"p16","t":3,"n":4.77},{"c":"p16","t":3.5,"n":4.92},{"c":"p16","t":4,"n":5.05},{"c":"p16","t":4.5,"n":4.87},{"c":"p16","t":5,"n":4.28},{"c":"p16","t":6,"n":3.33},{"c":"p16","t":7,"n":2.68},{"c":"p16","t":8,"n":2.22},{"c":"p16","t":9,"n":1.83},{"c":"p16","t":10,"n":1.54},
{"c":"p17","t":0,"n":0.05},{"c":"p17","t":0.15,"n":0.08},{"c":"p17","t":0.22,"n":0.3},{"c":"p17","t":0.3,"n":2},{"c":"p17","t":0.35,"n":3.4},{"c":"p17","t":0.49,"n":4.4},{"c":"p17","t":0.655,"n":4.78},{"c":"p17","t":1.03,"n":4.8},{"c":"p17","t":1.7,"n":4.84},{"c":"p17","t":2.5,"n":4.9},{"c":"p17","t":3,"n":4.97},{"c":"p17","t":3.5,"n":5.05},{"c":"p17","t":4,"n":5.24},{"c":"p17","t":4.5,"n":4.83},{"c":"p17","t":5,"n":4.15},{"c":"p17","t":6,"n":3.25},{"c":"p17","t":7,"n":2.65},{"c":"p17","t":8,"n":2.21},{"c":"p17","t":9,"n":1.85},{"c":"p17","t":10,"n":1.59},
{"c":"p18","t":0,"n":0.05},{"c":"p18","t":0.15,"n":0.08},{"c":"p18","t":0.22,"n":0.3},{"c":"p18","t":0.3,"n":2},{"c":"p18","t":0.35,"n":3.4},{"c":"p18","t":0.49,"n":4.4},{"c":"p18","t":0.75,"n":5},{"c":"p18","t":1.05,"n":5.02},{"c":"p18","t":1.5,"n":5.12},{"c":"p18","t":2.45,"n":5.3},{"c":"p18","t":3.3,"n":5.38},{"c":"p18","t":3.9,"n":5.45},{"c":"p18","t":4.2,"n":5.35},{"c":"p18","t":4.5,"n":4.8},{"c":"p18","t":5,"n":4.02},{"c":"p18","t":6,"n":3.18},{"c":"p18","t":7,"n":2.62},{"c":"p18","t":8,"n":2.2},{"c":"p18","t":9,"n":1.88},{"c":"p18","t":10,"n":1.63},
{"c":"x1","t":0,"n":0.05},{"c":"x1","t":0.15,"n":0.08},{"c":"x1","t":0.22,"n":0.3},{"c":"x1","t":0.3,"n":2},{"c":"x1","t":0.35,"n":3.4},{"c":"x1","t":0.49,"n":4.4},{"c":"x1","t":0.7,"n":4.9},{"c":"x1","t":0.8,"n":4.95},{"c":"x1","t":0.86,"n":4.5},{"c":"x1","t":0.92,"n":3.5},{"c":"x1","t":0.98,"n":2.5},{"c":"x1","t":1.02,"n":2},{"c":"x1","t":1.1,"n":1.69},{"c":"x1","t":1.3,"n":1.4},{"c":"x1","t":1.62,"n":1.15},{"c":"x1","t":2,"n":0.85},{"c":"x1","t":2.45,"n":0.58},{"c":"x1","t":3.2,"n":0.4},{"c":"x1","t":4.5,"n":0.28},{"c":"x1","t":6,"n":0.2},{"c":"x1","t":8,"n":0.14},{"c":"x1","t":10,"n":0.1},
{"c":"x2","t":0,"n":0.05},{"c":"x2","t":0.15,"n":0.08},{"c":"x2","t":0.22,"n":0.3},{"c":"x2","t":0.3,"n":2},{"c":"x2","t":0.35,"n":3.4},{"c":"x2","t":0.49,"n":4.4},{"c":"x2","t":0.75,"n":4.95},{"c":"x2","t":0.9,"n":5},{"c":"x2","t":1.1,"n":4.85},{"c":"x2","t":1.25,"n":4.65},{"c":"x2","t":1.42,"n":4.37},{"c":"x2","t":1.7,"n":3.43},{"c":"x2","t":2.1,"n":2.7},{"c":"x2","t":2.6,"n":2.2},{"c":"x2","t":3.2,"n":1.75},{"c":"x2","t":4,"n":1.3},{"c":"x2","t":5,"n":1},{"c":"x2","t":6.14,"n":0.71},{"c":"x2","t":8,"n":0.5},{"c":"x2","t":10,"n":0.35},
{"c":"xg","t":0,"n":0.05},{"c":"xg","t":0.15,"n":0.08},{"c":"xg","t":0.22,"n":0.3},{"c":"xg","t":0.3,"n":2},{"c":"xg","t":0.35,"n":3.4},{"c":"xg","t":0.49,"n":4.4},{"c":"xg","t":0.7,"n":4.85},{"c":"xg","t":0.85,"n":4.9},{"c":"xg","t":0.95,"n":4.6},{"c":"xg","t":1.1,"n":3.6},{"c":"xg","t":1.23,"n":2.79},{"c":"xg","t":1.6,"n":2},{"c":"xg","t":1.94,"n":1.53},{"c":"xg","t":2.45,"n":0.96},{"c":"xg","t":3.29,"n":0.58},{"c":"xg","t":5,"n":0.35},{"c":"xg","t":7,"n":0.25},{"c":"xg","t":10,"n":0.19},
{"c":"xm","t":0,"n":0.05},{"c":"xm","t":0.15,"n":0.08},{"c":"xm","t":0.28,"n":0.14},{"c":"xm","t":0.4,"n":0.08},{"c":"xm","t":0.6,"n":0.03},{"c":"xm","t":1,"n":0.01},{"c":"xm","t":3,"n":0.005},{"c":"xm","t":10,"n":0.005}
]},
"encoding":{
"x":{"field":"t","type":"quantitative","scale":{"domain":[-0.2024,10],"nice":false,"zero":false},"axis":null},
"y":{"field":"n","type":"quantitative","scale":{"domain":[-0.109,6.175],"nice":false,"zero":false},"axis":null},
"detail":{"field":"c"}
},
"layer":[
{"transform":[{"filter":"indexof(datum.c,'p')==0"}],
 "mark":{"type":"line","interpolate":"monotone","strokeWidth":1,"strokeDash":[1.2,6.5],"color":"#3a3a3a"}},
{"transform":[{"filter":"indexof(datum.c,'d')==0"}],
 "mark":{"type":"line","interpolate":"monotone","strokeWidth":1,"strokeDash":[6,10],"opacity":0.9},
 "encoding":{"color":{"field":"c","type":"nominal","legend":null,"scale":{"domain":["s1","s2","s3","s4","s5","s6","s7","s8","s9","s10","s11","s12","s13","s14","s15","s16","s17","d0","d1","d2","d3","d4","d5","d6","d7","d8","d9","d10","d11","x1","x2","xg","xm"],"range":["#000000","#d42a2a","#3cc83c","#1e1e78","#c83cc8","#3cd2d2","#e6e650","#a0a0a0","#8c1e1e","#1e641e","#14145a","#6e1e6e","#1e6e6e","#6e6e1e","#000000","#202050","#2f6f7f","#000000","#d42a2a","#3cc83c","#1e1e78","#c83cc8","#3cd2d2","#e6e650","#a0a0a0","#8c1e1e","#1e641e","#5a1e8c","#1e6e6e","#000000","#000000","#3cc83c","#c83cc8"]}}}},
{"transform":[{"filter":"indexof(datum.c,'x')==0"}],
 "mark":{"type":"line","interpolate":"monotone","strokeWidth":1,"strokeDash":[5,3,1.5,3]},
 "encoding":{"color":{"field":"c","type":"nominal","legend":null}}},
{"transform":[{"filter":"indexof(datum.c,'s')==0"}],
 "mark":{"type":"line","interpolate":"monotone","strokeWidth":1,"opacity":0.92},
 "encoding":{
  "color":{"field":"c","type":"nominal","legend":null},
  "x":{"field":"t","type":"quantitative","axis":{"orient":"bottom","values":[0,5,10],"format":"d","domain":false,"grid":false,"tickSize":-12,"tickColor":"#333","tickWidth":1.5,"labelPadding":21,"labelFont":"DejaVu Sans Mono","labelFontSize":12,"labelColor":"#222","title":"Time (ns)","titleFont":"Liberation Serif","titleFontSize":28,"titleFontWeight":"bold","titleColor":"#000","titlePadding":4}},
  "y":{"field":"n","type":"quantitative","axis":{"orient":"left","values":[1,3,5],"labelExpr":"datum.value + 'e+20'","domain":false,"grid":false,"tickSize":-18,"tickColor":"#333","tickWidth":1.5,"labelPadding":28,"labelFont":"DejaVu Sans Mono","labelFontSize":12,"labelColor":"#222","title":"Electron density (#/cm³)","titleFont":"Liberation Serif","titleFontSize":27,"titleFontWeight":"normal","titleColor":"#000","titlePadding":22}}}},
{"transform":[{"filter":"datum.c=='s1' && datum.t==0"}],
 "mark":{"type":"point","opacity":0},
 "encoding":{
  "x":{"field":"t","type":"quantitative","axis":{"orient":"top","values":[0,5,10],"labels":false,"domain":false,"grid":false,"tickSize":-12,"tickColor":"#333","tickWidth":1.5,"title":null}},
  "y":{"field":"n","type":"quantitative","axis":{"orient":"right","values":[1,3,5],"labels":false,"domain":false,"grid":false,"tickSize":-18,"tickColor":"#333","tickWidth":1.5,"title":null}}}}
],
"resolve":{"axis":{"x":"independent","y":"independent"}}
}
